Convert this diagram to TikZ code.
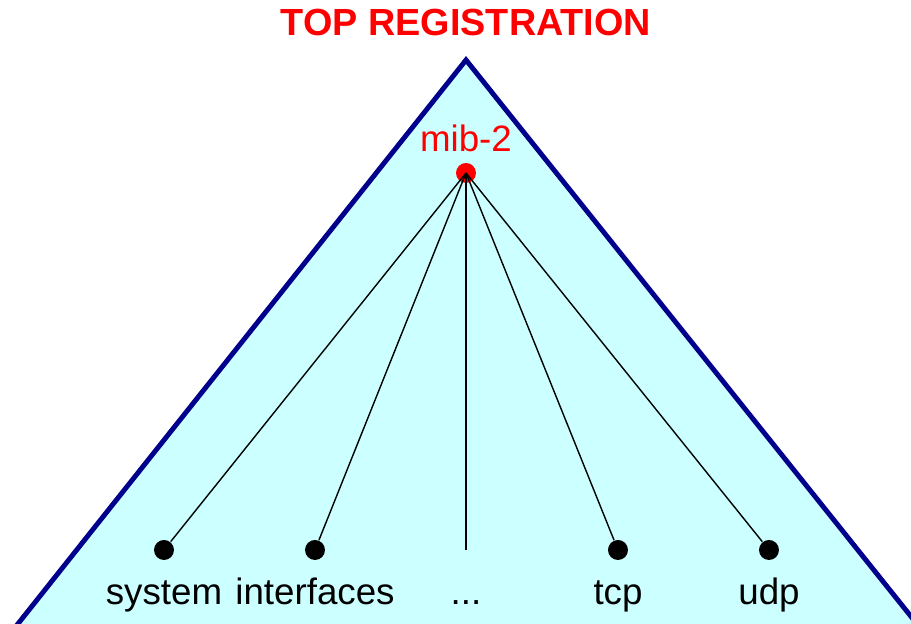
\documentclass[tikz,border=0pt]{standalone}
\usepackage{fontspec}
\setmainfont{Liberation Sans}
\usetikzlibrary{positioning}
\definecolor{mibred}{RGB}{255,0,0}
\definecolor{mibnavy}{RGB}{0,0,140}
\definecolor{mibcyan}{RGB}{204,255,255}

\begin{document}
\begin{tikzpicture}[every node/.style={font=\fontsize{10.45pt}{12pt}\selectfont},
  leaf/.style={circle, fill=black, minimum size=0.2cm, inner sep=0pt},
  leaflabel/.style={anchor=base},
  branch/.style={black, line width=0.4pt}]
  \useasboundingbox (0,0) rectangle (9.11,6.24);
  \clip (0,0) rectangle (9.11,6.24);

  % Registration tree
  \filldraw[fill=mibcyan, draw=mibnavy, line width=1.4pt, line join=miter]
    (4.66,5.64) -- (-0.06,-0.3) -- (9.41,-0.3) -- cycle;

  % Title
  \node[anchor=base, text=mibred, font=\fontsize{10.75pt}{12pt}\selectfont\bfseries]
    (title) at (4.66,5.88) {TOP REGISTRATION};

  % Root node
  \node[circle, fill=mibred, minimum size=0.2cm, inner sep=0pt] (mib) at (4.66,4.51) {};
  \node[anchor=base, text=mibred] (miblabel) at (4.66,4.72) {mib-2};

  % Leaves
  \node[leaf] (system) at (1.64,0.74) {};
  \node[leaf] (interfaces) at (3.15,0.74) {};
  \coordinate (dots) at (4.66,0.74);
  \node[leaf] (tcp) at (6.18,0.74) {};
  \node[leaf] (udp) at (7.69,0.74) {};

  \node[leaflabel] (systemlabel) at (1.64,0.19) {system};
  \node[leaflabel] (interfaceslabel) at (3.15,0.19) {interfaces};
  \node[leaflabel] (dotslabel) at (4.66,0.19) {...};
  \node[leaflabel] (tcplabel) at (6.18,0.19) {tcp};
  \node[leaflabel] (udplabel) at (7.69,0.19) {udp};

  % Branches
  \foreach \leafname in {system, interfaces, dots, tcp, udp}
    \draw[branch] (mib.center) -- (\leafname);
\end{tikzpicture}
\end{document}
